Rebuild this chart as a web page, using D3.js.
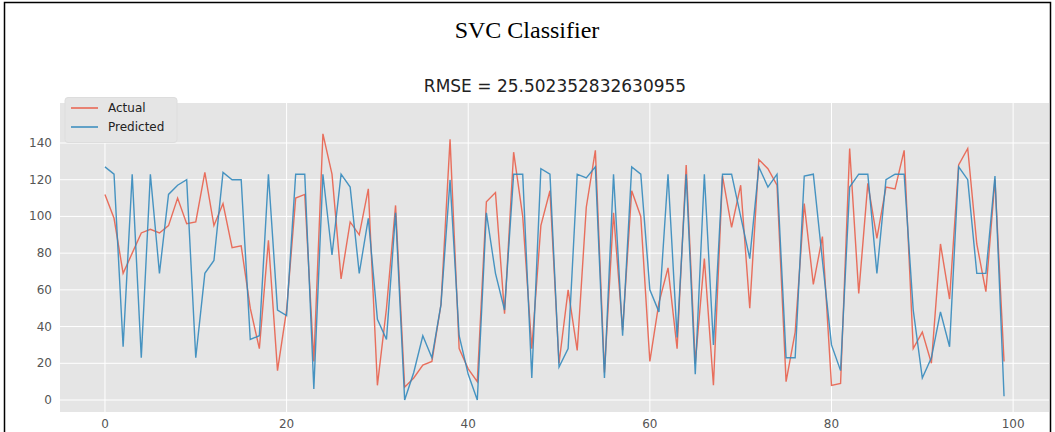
<!DOCTYPE html>
<html><head><meta charset="utf-8">
<script src="https://cdn.jsdelivr.net/npm/d3@7"></script>
<style>body{margin:0;background:#fff}</style></head>
<body><div id="chart"></div>
<script>
// DATA
var actual = [112,99,69,80,91,93,91,95,110,96,97,124,95,107,83,84,50,28,87,16,
  49,110,112,21,145,123,66,97,90,115,8,50,106,7,12,19,21,52,142,28,
  17,10,108,113,47,135,100,28,95,114,20,60,27,105,136,15,102,38,114,100,
  21,53,72,28,128,20,77,8,122,94,117,50,131,126,117,10,37,107,63,89,
  8,9,137,58,118,88,116,115,136,28,37,20,85,55,128,137,85,59,120,21];
var predicted = [127,123,29,123,23,123,69,112,117,120,23,69,76,124,120,120,33,35,123,49,
  46,123,123,6,123,79,123,116,69,99,44,33,102,0,15,35,23,52,120,35,
  14,0,102,69,49,123,123,12,126,123,18,28,123,121,127,12,123,35,127,123,
  60,48,123,34,123,14,123,30,123,123,100,77,127,116,123,23,23,122,123,76,
  30,16,116,123,123,69,120,123,123,49,12,23,48,29,127,120,69,69,122,2];
var xTicks = [0,20,40,60,80,100];
var yTicks = [0,20,40,60,80,100,120,140];
var seriesNames = ["Actual","Predicted"];
var colors = ["#e8604c","#348abd"];

var W = 1055, H = 432;
var svg = d3.select("#chart").append("svg").attr("width", W).attr("height", H);

// frame
svg.append("path").attr("d","M4.5,432 V2.5 H1050.5 V432").attr("fill","none").attr("stroke","#000").attr("stroke-width",1.5);

svg.append("text").attr("x",527).attr("y",38).attr("text-anchor","middle")
  .style("font-family","Liberation Serif").style("font-size","24px").text("SVC Classifier");
svg.append("text").attr("x",555).attr("y",92).attr("text-anchor","middle")
  .style("font-family","DejaVu Sans").style("font-size","17px").attr("fill","#222")
  .text("RMSE = 25.502352832630955");

var pLeft = 60, pRight = 1049, pTop = 103, pBottom = 412;
var x = d3.scaleLinear().domain([-4.95,103.95]).range([pLeft,pRight]);
var y = d3.scaleLinear().domain([0,140]).range([400,143]);

svg.append("defs").append("clipPath").attr("id","clip")
  .append("rect").attr("x",pLeft).attr("y",pTop).attr("width",pRight-pLeft).attr("height",pBottom-pTop);
svg.append("rect").attr("x",pLeft).attr("y",pTop).attr("width",pRight-pLeft).attr("height",pBottom-pTop).attr("fill","#e5e5e5");

var g = svg.append("g").attr("clip-path","url(#clip)");
g.selectAll(".gx").data(xTicks).enter().append("line")
  .attr("x1",d=>x(d)).attr("x2",d=>x(d)).attr("y1",pTop).attr("y2",pBottom).attr("stroke","#fff").attr("stroke-width",1);
g.selectAll(".gy").data(yTicks).enter().append("line")
  .attr("y1",d=>y(d)).attr("y2",d=>y(d)).attr("x1",pLeft).attr("x2",pRight).attr("stroke","#fff").attr("stroke-width",1);

var line = d3.line().x((d,i)=>x(i)).y(d=>y(d));
[actual,predicted].forEach(function(s,k){
  g.append("path").datum(s).attr("d",line).attr("fill","none")
    .attr("stroke",colors[k]).attr("stroke-width",1.4).attr("opacity",0.9);
});

svg.selectAll(".xl").data(xTicks).enter().append("text")
  .attr("x",d=>x(d)).attr("y",428).attr("text-anchor","middle")
  .style("font-family","DejaVu Sans").style("font-size","12px").attr("fill","#555").text(d=>d);
svg.selectAll(".yl").data(yTicks).enter().append("text")
  .attr("x",52).attr("y",d=>y(d)+4).attr("text-anchor","end")
  .style("font-family","DejaVu Sans").style("font-size","12px").attr("fill","#555").text(d=>d);

// legend
var lg = svg.append("g");
lg.append("rect").attr("x",65).attr("y",97.5).attr("width",112).attr("height",45)
  .attr("fill","#e5e5e5").attr("stroke","#ddd").attr("rx",3);
seriesNames.forEach(function(n,i){
  lg.append("line").attr("x1",71).attr("x2",98).attr("y1",108+i*19).attr("y2",108+i*19)
    .attr("stroke",colors[i]).attr("stroke-width",1.5);
  lg.append("text").attr("x",108).attr("y",112+i*19)
    .style("font-family","DejaVu Sans").style("font-size","12px").attr("fill","#222").text(n);
});
</script></body></html>
